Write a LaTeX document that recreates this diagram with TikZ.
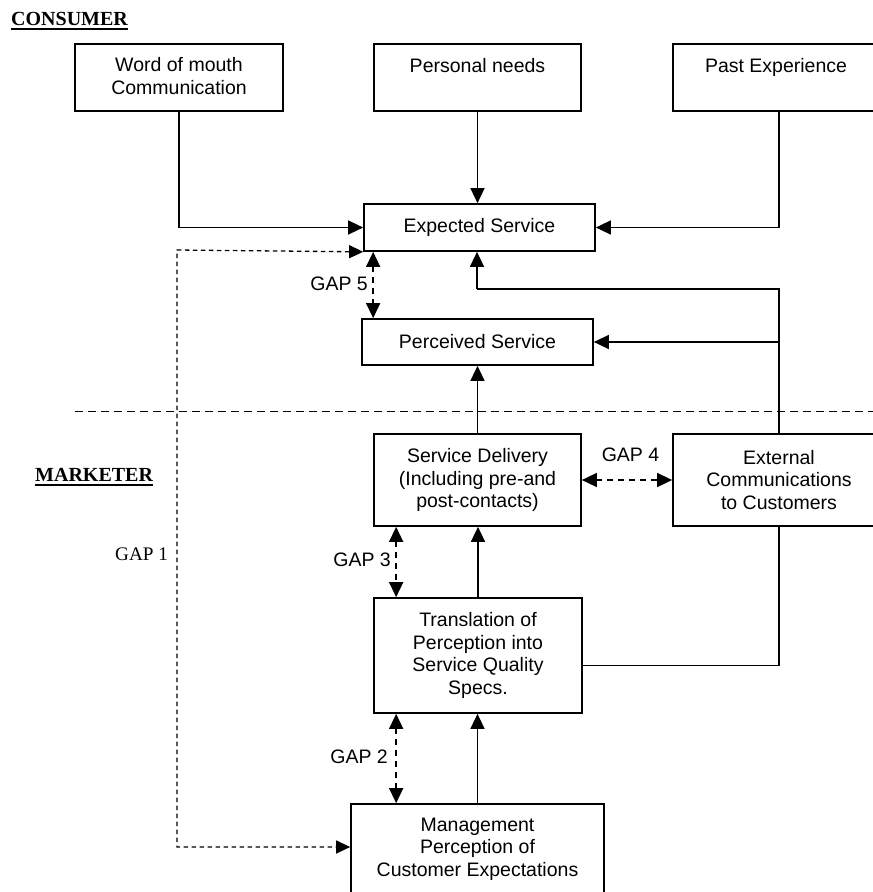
\documentclass[tikz,border=0pt]{standalone}
\usepackage{fontspec}
\setmainfont{Liberation Sans}
\newfontfamily\tnr{Liberation Serif}
\usetikzlibrary{arrows.meta}
\newcommand\myul[1]{\leavevmode\setbox0\hbox{#1}\rlap{\rule[-4pt]{\wd0}{1.6pt}}\box0}
\begin{document}
\begin{tikzpicture}[x=1pt,y=-1pt,
  sf/.style={font=\fontsize{19.5}{22.5}\selectfont},
  box/.style={draw, line width=1.7pt, inner sep=0pt, align=center},
  txt/.style={inner sep=0pt, align=center, execute at begin node=\strut},
  conn/.style={line width=1.5pt},
  arr/.style={conn, -{Triangle[length=15pt,width=14pt]}},
  gap/.style={line width=1.5pt, dash pattern=on 6pt off 5pt, {Triangle[length=15pt,width=14pt]}-{Triangle[length=15pt,width=14pt]}},
  gapone/.style={line width=1.3pt, dash pattern=on 4.5pt off 3.5pt, {Triangle[length=14pt,width=13pt]}-{Triangle[length=14pt,width=13pt]}},
  lbl/.style={sf, inner sep=0pt},
  head/.style={inner sep=0pt, anchor=base west, font=\tnr\bfseries\fontsize{20}{24}\selectfont}
]
\useasboundingbox (0,0) rectangle (873,892);

% boxes
\node[box, minimum width=208pt, minimum height=67pt] (wom) at (179,77.5) {};
\node[txt, sf, anchor=north] (womt) at (179,57.25) {Word of mouth\\Communication};
\node[box, minimum width=207pt, minimum height=67pt] (pn) at (477.5,77.5) {};
\node[txt, sf, anchor=north] (pnt) at (477.5,57) {Personal needs};
\node[box, minimum width=212pt, minimum height=67pt] (pe) at (779,77.5) {};
\node[txt, sf, anchor=north] (pet) at (776,57) {Past Experience};
\node[box, sf, minimum width=231pt, minimum height=47pt] (exp) at (479.5,227.5) {Expected Service};
\node[box, sf, minimum width=231pt, minimum height=46pt] (perc) at (477.5,342) {Perceived Service};
\node[box, sf, minimum width=207pt, minimum height=92pt] (sd) at (477.5,480) {Service Delivery\\(Including pre-and\\post-contacts)};
\node[box, sf, minimum width=212pt, minimum height=92pt] (ext) at (779,480) {External\\Communications\\to Customers};
\node[box, sf, minimum width=208pt, minimum height=115pt] (tr) at (478,655.5) {Translation of\\Perception into\\Service Quality\\Specs.};
\node[box, minimum width=253pt, minimum height=100pt] (mg) at (477.5,854) {};
\node[txt, sf, anchor=north] (mgt) at (477.5,817.5) {Management\\Perception of\\Customer Expectations};

% headings
\node[head] (cons) at (11,25.7) {\myul{CONSUMER}};
\node[head] (mark) at (35,481.7) {\myul{MARKETER}};

% separator
\coordinate (dla) at (75,411.7);
\coordinate (dlb) at (880,411.7);
\draw[line width=1.5pt, dash pattern=on 8pt off 5pt] (dla) -- (dlb);

% connectors
\draw[arr] (wom.south) |- (exp.west);
\draw[arr] (pn.south) -- (pn.south |- exp.north);
\draw[arr] (pe.south) |- (exp.east);
\coordinate (ej) at (477,289);
\draw[conn] (ext.north) |- (ej);
\draw[arr] (ej) -- (ej |- exp.south);
\coordinate (pj) at (ext.north |- perc.east);
\draw[arr] (pj) -- (perc.east);
\draw[arr] (sd.north) -- (perc.south);
\draw[arr] (tr.north) -- (tr.north |- sd.south);
\draw[arr] (mg.north) -- (mg.north |- tr.south);
\coordinate (tj) at ([yshift=-10pt]tr.east);
\draw[conn] (tj) -| (ext.south);

% gaps
\draw[gap] (sd.east) -- (ext.west);
\coordinate (g5a) at ([xshift=10pt]exp.south west);
\draw[gap] (g5a) -- (g5a |- perc.north);
\coordinate (g3a) at ([xshift=23pt]sd.south west);
\draw[gap] (g3a) -- (g3a |- tr.north);
\coordinate (g2a) at ([xshift=23pt]tr.south west);
\draw[gap] (g2a) -- (g2a |- mg.north);
\coordinate (g1a) at (177,250);
\coordinate (g1b) at (177,847);
\draw[gapone] (exp.south west) -- (g1a) -- (g1b) -- (g1b -| mg.west);

% gap labels
\node[lbl, anchor=base east] (l5) at (368,290) {GAP 5};
\node[lbl, anchor=base] (l4) at (630.5,461.7) {GAP 4};
\node[lbl, anchor=base east] (l3) at (391,566) {GAP 3};
\node[lbl, anchor=base east] (l2) at (388,763) {GAP 2};
\node[inner sep=0pt, anchor=base west, font=\tnr\fontsize{19.2}{23}\selectfont] (l1) at (115,560) {GAP 1};
\end{tikzpicture}
\end{document}
